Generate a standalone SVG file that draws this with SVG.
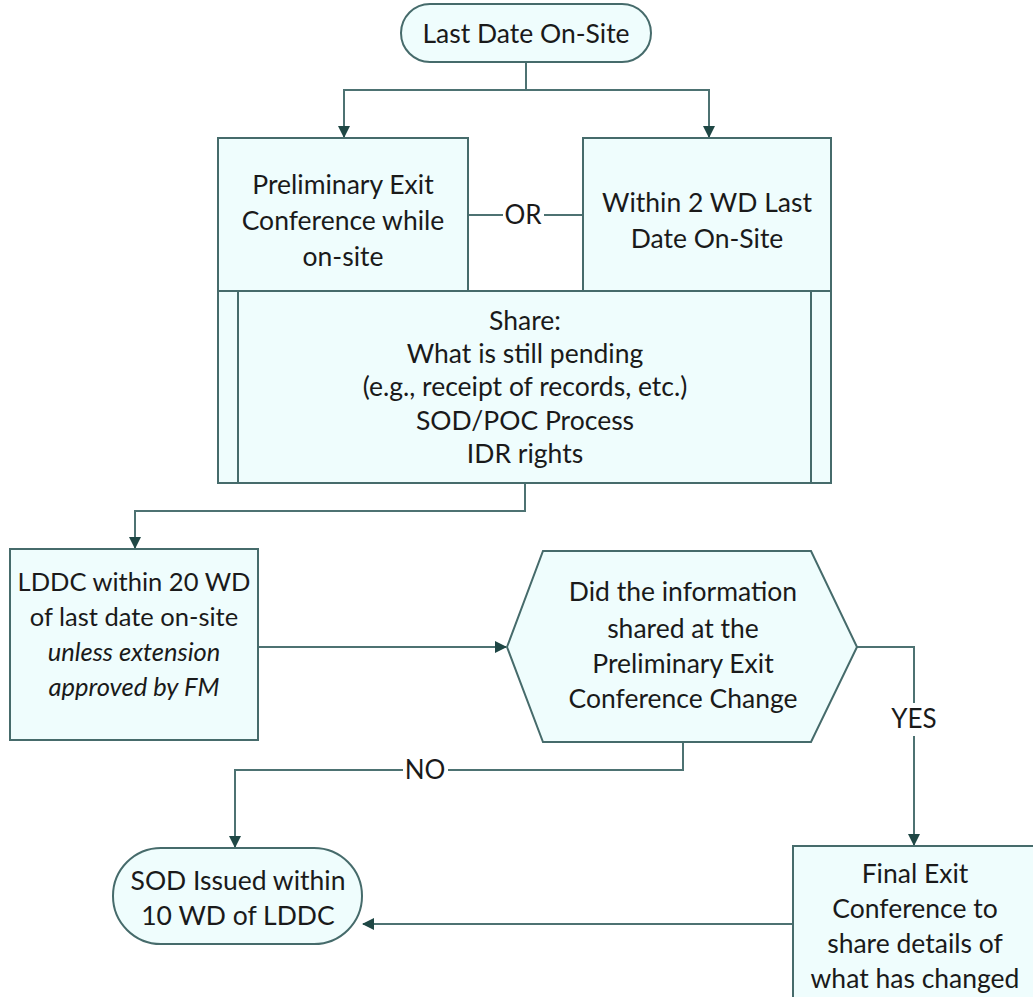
<svg xmlns="http://www.w3.org/2000/svg" width="1033" height="997" viewBox="0 0 1033 997">
  <defs>
    <style>
      .shape { fill: #effdfd; stroke: #466b6b; stroke-width: 2; }
      .bar { fill: none; stroke: #466b6b; stroke-width: 2; }
      .link { fill: none; stroke: #4d7272; stroke-width: 2; }
      .txt { font-family: Lato, "Open Sans", sans-serif; font-size: 26.5px; fill: #1a1a1a; text-anchor: middle; }
      .sm { font-size: 25.5px; }
      .it { font-style: italic; }
      .lbl { font-family: Lato, "Open Sans", sans-serif; font-size: 26px; fill: #1a1a1a; text-anchor: middle; }
    </style>
    <marker id="arrow" viewBox="0 0 12 12" refX="11" refY="6" markerWidth="12" markerHeight="12" markerUnits="userSpaceOnUse" orient="auto">
      <path d="M0,0 L12,6 L0,12 Z" fill="#1f4745"/>
    </marker>
  </defs>

  <rect width="1033" height="997" fill="#ffffff"/>

  <!-- connectors -->
  <g id="connectors">
    <path class="link" d="M526,62 V90 H344 V137" marker-end="url(#arrow)"/>
    <path class="link" d="M526,90 H709 V137" marker-end="url(#arrow)"/>
    <path class="link" d="M468,215 H503"/>
    <path class="link" d="M544,215 H583"/>
    <path class="link" d="M525,483 V511 H135 V548" marker-end="url(#arrow)"/>
    <path class="link" d="M258,647 H506" marker-end="url(#arrow)"/>
    <path class="link" d="M857,647 H914 V703"/>
    <path class="link" d="M914,736 V845" marker-end="url(#arrow)"/>
    <path class="link" d="M683,742 V770 H448"/>
    <path class="link" d="M403,770 H235 V847" marker-end="url(#arrow)"/>
    <path class="link" d="M793,924 H363" marker-end="url(#arrow)"/>
    <text class="lbl" x="523" y="224">OR</text>
    <text class="lbl" x="914" y="728">YES</text>
    <text class="lbl" x="425" y="779">NO</text>
  </g>

  <g id="last-date">
    <rect class="shape" x="401" y="4" width="250" height="58" rx="29"/>
    <text class="txt" x="526" y="43">Last Date On-Site</text>
  </g>

  <g id="preliminary-exit">
    <rect class="shape" x="218" y="138" width="250" height="153"/>
    <text class="txt" x="343" y="194">Preliminary Exit</text>
    <text class="txt" x="343" y="230">Conference while</text>
    <text class="txt" x="343" y="266">on-site</text>
  </g>

  <g id="within-2wd">
    <rect class="shape" x="583" y="138" width="248" height="153"/>
    <text class="txt" x="707" y="212">Within 2 WD Last</text>
    <text class="txt" x="707" y="248">Date On-Site</text>
  </g>

  <g id="share">
    <rect class="shape" x="218" y="291" width="613" height="192"/>
    <line class="bar" x1="238" y1="291" x2="238" y2="483"/>
    <line class="bar" x1="811" y1="291" x2="811" y2="483"/>
    <text class="txt" x="525" y="330">Share:</text>
    <text class="txt" x="525" y="363">What is still pending</text>
    <text class="txt" x="525" y="396">(e.g., receipt of records, etc.)</text>
    <text class="txt" x="525" y="430">SOD/POC Process</text>
    <text class="txt" x="525" y="463">IDR rights</text>
  </g>

  <g id="lddc">
    <rect class="shape" x="10" y="549" width="248" height="191"/>
    <text class="txt sm" x="134" y="591">LDDC within 20 WD</text>
    <text class="txt sm" x="134" y="626">of last date on-site</text>
    <text class="txt sm it" x="134" y="661">unless extension</text>
    <text class="txt sm it" x="134" y="696">approved by FM</text>
  </g>

  <g id="decision">
    <polygon class="shape" points="507,647 543,551 811,551 857,647 811,742 543,742"/>
    <text class="txt" x="683" y="601">Did the information</text>
    <text class="txt" x="683" y="638">shared at the</text>
    <text class="txt" x="683" y="673">Preliminary Exit</text>
    <text class="txt" x="683" y="708">Conference Change</text>
  </g>

  <g id="sod-issued">
    <rect class="shape" x="113" y="848" width="249" height="96" rx="48"/>
    <text class="txt" x="238" y="890">SOD Issued within</text>
    <text class="txt" x="238" y="925">10 WD of LDDC</text>
  </g>

  <g id="final-exit">
    <rect class="shape" x="793" y="846" width="260" height="170"/>
    <text class="txt" x="915" y="883">Final Exit</text>
    <text class="txt" x="915" y="918">Conference to</text>
    <text class="txt" x="915" y="953">share details of</text>
    <text class="txt" x="915" y="988">what has changed</text>
  </g>
</svg>
